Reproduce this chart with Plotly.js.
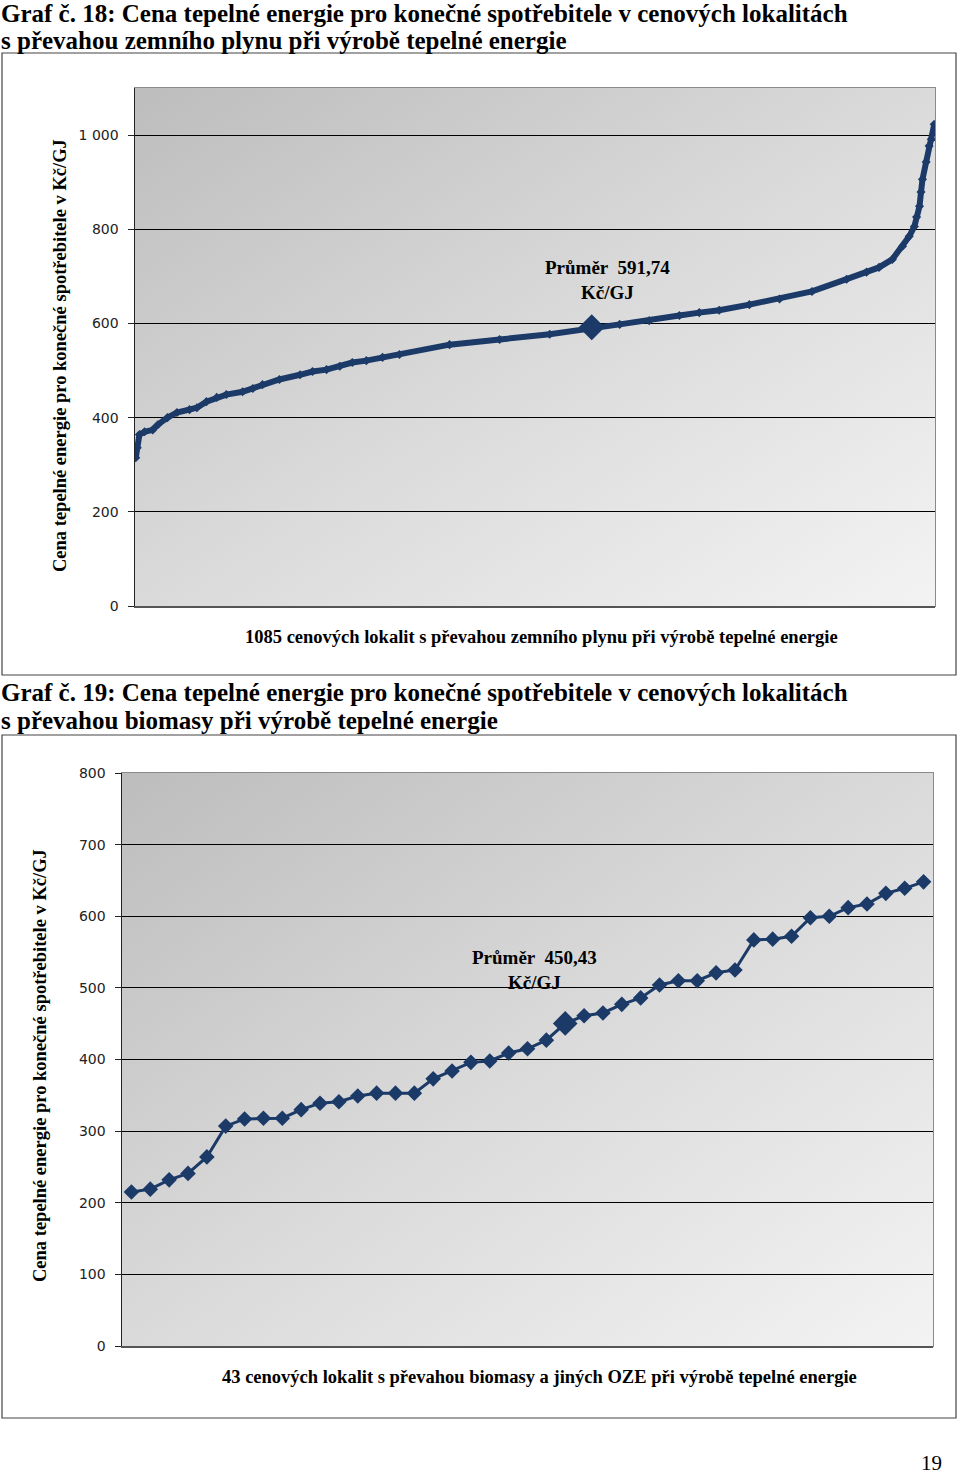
<!DOCTYPE html>
<html>
<head>
<meta charset="utf-8">
<script src="https://cdn.plot.ly/plotly-3.0.1.min.js"></script>
<style>
html,body{margin:0;padding:0;background:#fff;}
#chart{width:960px;height:1476px;}
</style>
</head>
<body>
<div id="chart"></div>
<script>
// ---- Data: chart 18 (natural gas) – price by rank (sampled readings along the sorted curve)
const gasRank = [1,3,6,13,24,31,44,57,74,84,97,111,124,146,160,173,196,224,241,260,278,295,314,336,359,427,495,563,658,698,739,766,793,834,875,919,966,993,1010,1028,1042,1051,1058,1061,1065,1067,1069,1074,1078,1081,1085];
const gasPrice = [315,336,364,370,374,385,400,411,417,421,434,443,449,455,462,470,481,491,498,502,509,517,521,528,534,555,566,577,598,606,617,623,628,640,652,668,694,709,719,736,764,785,806,826,849,879,906,943,977,991,1023];
const gasAvgRank = 620;
const gasAvg = 591.74;
const gasCount = 1085;

// ---- Data: chart 19 (biomass)
const bioPrice = [215,219,232,241,264,307,317,318,318,330,339,341,349,353,353,353,373,384,396,398,409,415,427,450.43,461,465,477,486,504,510,510,521,525,567,568,572,598,600,612,617,632,639,648];
const bioAvgPos = 24;
const bioAvg = 450.43;
const bioCount = 43;

// ---- Text
const title18a = 'Graf č. 18: Cena tepelné energie pro konečné spotřebitele v cenových lokalitách';
const title18b = 's převahou zemního plynu při výrobě tepelné energie';
const title19a = 'Graf č. 19: Cena tepelné energie pro konečné spotřebitele v cenových lokalitách';
const title19b = 's převahou biomasy při výrobě tepelné energie';
const yTitle = 'Cena tepelné energie pro konečné spotřebitele v Kč/GJ';
const xTitle18 = '1085 cenových lokalit s převahou zemního plynu při výrobě tepelné energie';
const xTitle19 = '43 cenových lokalit s převahou biomasy a jiných OZE při výrobě tepelné energie';
const pageNo = '19';

const W = 960, H = 1476;
const px = v => v / W;
const py = v => 1 - v / H;
const navy = '#1b3a68';
const serif = 'Liberation Serif, Times New Roman, serif';
const sans = 'DejaVu Sans, Verdana, sans-serif';

const bioX = bioPrice.map((_, i) => i + 1);

const traces = [
  {x: gasRank, y: gasPrice, xaxis: 'x', yaxis: 'y', type: 'scatter', mode: 'lines+markers',
   line: {color: navy, width: 6}, marker: {symbol: 'diamond', size: 7, color: navy}, hoverinfo: 'skip'},
  {x: [gasAvgRank], y: [gasAvg], xaxis: 'x', yaxis: 'y', type: 'scatter', mode: 'markers',
   marker: {symbol: 'diamond', size: 20, color: navy}, hoverinfo: 'skip'},
  {x: bioX, y: bioPrice, xaxis: 'x2', yaxis: 'y2', type: 'scatter', mode: 'lines+markers',
   line: {color: navy, width: 3}, marker: {symbol: 'diamond', size: 12, color: navy}, hoverinfo: 'skip'},
  {x: [bioAvgPos], y: [bioAvg], xaxis: 'x2', yaxis: 'y2', type: 'scatter', mode: 'markers',
   marker: {symbol: 'diamond', size: 19, color: navy}, hoverinfo: 'skip'}
];

const grad = "<svg xmlns='http://www.w3.org/2000/svg' width='100' height='100' preserveAspectRatio='none'>" +
  "<defs><linearGradient id='g' x1='0' y1='0' x2='1' y2='1'>" +
  "<stop offset='0' stop-color='#bdbdbd'/><stop offset='0.5' stop-color='#dadada'/><stop offset='1' stop-color='#f3f3f3'/>" +
  "</linearGradient></defs><rect width='100' height='100' fill='url(#g)'/></svg>";
const gradSrc = 'data:image/svg+xml;charset=utf-8,' + encodeURIComponent(grad);

const d1x = [px(135), px(935)], d1y = [py(606), py(88)];
const d2x = [px(122), px(933)], d2y = [py(1346), py(773)];

const yaxisCommon = {
  showgrid: true, gridcolor: '#000', gridwidth: 1, zeroline: false,
  showline: true, linecolor: '#222', linewidth: 1.5,
  ticks: 'outside', ticklen: 6, tickcolor: '#222', tickwidth: 1, ticklabelstandoff: 6,
  tickfont: {family: sans, size: 14, color: '#222'}, fixedrange: true
};
const xaxisCommon = {
  showgrid: false, zeroline: false, showticklabels: false, ticks: '',
  showline: true, linecolor: '#555', linewidth: 1.5, fixedrange: true
};

const titleFont = {family: serif, size: 25, color: '#000', weight: 'bold'};
const axisTitleFont = {family: serif, size: 18.5, color: '#000', weight: 'bold'};
const avgFont = {family: serif, size: 19, color: '#000', weight: 'bold'};

const layout = {
  width: W, height: H,
  margin: {l: 0, r: 0, t: 0, b: 0},
  paper_bgcolor: '#fff', plot_bgcolor: 'rgba(0,0,0,0)',
  showlegend: false,
  separators: ', ',
  xaxis: Object.assign({}, xaxisCommon, {domain: d1x, range: [0, gasCount + 1], anchor: 'y'}),
  yaxis: Object.assign({}, yaxisCommon, {domain: d1y, range: [0, 1100], dtick: 200, tick0: 0, tickformat: ',d', anchor: 'x'}),
  xaxis2: Object.assign({}, xaxisCommon, {domain: d2x, range: [0.5, bioCount + 0.5], anchor: 'y2'}),
  yaxis2: Object.assign({}, yaxisCommon, {domain: d2y, range: [0, 800], dtick: 100, tick0: 0, tickformat: 'd', anchor: 'x2'}),
  images: [
    {source: gradSrc, xref: 'x domain', yref: 'y domain', x: 0, y: 1, sizex: 1, sizey: 1, sizing: 'stretch', xanchor: 'left', yanchor: 'top', layer: 'below'},
    {source: gradSrc, xref: 'x2 domain', yref: 'y2 domain', x: 0, y: 1, sizex: 1, sizey: 1, sizing: 'stretch', xanchor: 'left', yanchor: 'top', layer: 'below'}
  ],
  shapes: [
    {type: 'rect', xref: 'paper', yref: 'paper', x0: px(2), x1: px(956), y0: py(675), y1: py(53), line: {color: '#444', width: 1.2}, layer: 'below'},
    {type: 'rect', xref: 'paper', yref: 'paper', x0: px(2), x1: px(956), y0: py(1418), y1: py(735), line: {color: '#444', width: 1.2}, layer: 'below'},
    {type: 'rect', xref: 'x domain', yref: 'y domain', x0: 0, x1: 1, y0: 0, y1: 1, line: {color: '#8a8a8a', width: 2}, layer: 'below'},
    {type: 'rect', xref: 'x2 domain', yref: 'y2 domain', x0: 0, x1: 1, y0: 0, y1: 1, line: {color: '#8a8a8a', width: 2}, layer: 'below'}
  ],
  annotations: [
    {text: title18a, xref: 'paper', yref: 'paper', x: px(-1), y: py(13), xanchor: 'left', yanchor: 'middle', showarrow: false, font: titleFont},
    {text: title18b, xref: 'paper', yref: 'paper', x: px(-1), y: py(40), xanchor: 'left', yanchor: 'middle', showarrow: false, font: titleFont},
    {text: title19a, xref: 'paper', yref: 'paper', x: px(-1), y: py(692), xanchor: 'left', yanchor: 'middle', showarrow: false, font: titleFont},
    {text: title19b, xref: 'paper', yref: 'paper', x: px(-1), y: py(720), xanchor: 'left', yanchor: 'middle', showarrow: false, font: titleFont},
    {text: yTitle, xref: 'paper', yref: 'paper', x: px(60), y: py(356), xanchor: 'center', yanchor: 'middle', textangle: -90, showarrow: false, font: axisTitleFont},
    {text: yTitle, xref: 'paper', yref: 'paper', x: px(40), y: py(1066), xanchor: 'center', yanchor: 'middle', textangle: -90, showarrow: false, font: axisTitleFont},
    {text: xTitle18, xref: 'paper', yref: 'paper', x: px(541), y: py(637), xanchor: 'center', yanchor: 'middle', showarrow: false, font: axisTitleFont},
    {text: xTitle19, xref: 'paper', yref: 'paper', x: px(539), y: py(1377), xanchor: 'center', yanchor: 'middle', showarrow: false, font: axisTitleFont},
    {text: 'Průměr  ' + gasAvg.toFixed(2).replace('.', ',') + '<br>Kč/GJ', xref: 'x', yref: 'y', x: gasAvgRank, y: gasAvg, xanchor: 'center', yanchor: 'middle', showarrow: false, xshift: 16, yshift: 47, font: avgFont},
    {text: 'Průměr  ' + bioAvg.toFixed(2).replace('.', ',') + '<br>Kč/GJ', xref: 'x2', yref: 'y2', x: bioAvgPos, y: bioAvg, xanchor: 'center', yanchor: 'middle', showarrow: false, xshift: -31, yshift: 53, font: avgFont},
    {text: pageNo, xref: 'paper', yref: 'paper', x: px(944), y: py(1463), xanchor: 'right', yanchor: 'middle', showarrow: false, font: {family: serif, size: 21, color: '#000'}}
  ]
};

Plotly.newPlot('chart', traces, layout, {staticPlot: true, displayModeBar: false});
</script>
</body>
</html>
